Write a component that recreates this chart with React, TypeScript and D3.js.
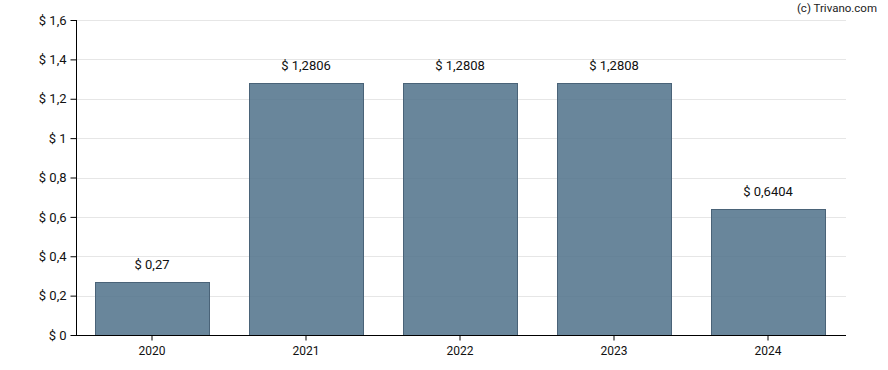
import React, { useEffect, useRef } from "react";
import * as d3 from "d3";

const years = ["2020", "2021", "2022", "2023", "2024"];
const dividends = [0.27, 1.2806, 1.2808, 1.2808, 0.6404];
const valueLabels = ["$ 0,27", "$ 1,2806", "$ 1,2808", "$ 1,2808", "$ 0,6404"];
const yTicks = [0, 0.2, 0.4, 0.6, 0.8, 1, 1.2, 1.4, 1.6];

const W = 888;
const H = 370;
const margin = { top: 20, right: 42, bottom: 35, left: 76 };

export default function App() {
  const svgRef = useRef<SVGSVGElement>(null);

  useEffect(() => {
    if (!svgRef.current) return;
    const svg = d3.select(svgRef.current);
    svg.selectAll("*").remove();

    const x = d3
      .scaleBand<string>()
      .domain(years)
      .range([margin.left - 1, W - margin.right - 1])
      .paddingInner(0.26)
      .paddingOuter(0.13);
    const y = d3
      .scaleLinear()
      .domain([0, 1.6])
      .range([H - margin.bottom, margin.top]);

    const fmt = (v: number) => "$ " + String(+v.toFixed(1)).replace(".", ",");
    const font = "Roboto, sans-serif";

    // grid lines
    svg
      .append("g")
      .selectAll("line")
      .data(yTicks.filter((t) => t > 0))
      .join("line")
      .attr("x1", margin.left)
      .attr("x2", W - margin.right)
      .attr("y1", (d) => Math.round(y(d)) + 0.5)
      .attr("y2", (d) => Math.round(y(d)) + 0.5)
      .attr("stroke", "#e6e6e6")
      .attr("stroke-width", 1);

    // bars
    svg
      .append("g")
      .selectAll("rect")
      .data(dividends)
      .join("rect")
      .attr("x", (_, i) => Math.round(x(years[i])!) + 0.5)
      .attr("y", (d) => Math.round(y(d)) + 0.5)
      .attr("width", Math.round(x.bandwidth()))
      .attr("height", (d) => Math.round(y(0)) - Math.round(y(d)))
      .attr("fill", "#4f7189")
      .attr("fill-opacity", 0.85)
      .attr("stroke", "#4a6378")
      .attr("stroke-width", 1);

    // value labels
    svg
      .append("g")
      .selectAll("text")
      .data(dividends)
      .join("text")
      .attr("x", (_, i) => x(years[i])! + x.bandwidth() / 2)
      .attr("y", (d) => y(d) - 13)
      .attr("text-anchor", "middle")
      .attr("font-family", font)
      .attr("font-size", 13)
      .attr("fill", "#111")
      .text((_, i) => valueLabels[i]);

    // y axis
    const yAxis = svg
      .append("g")
      .attr("transform", `translate(${margin.left + 0.5},0)`)
      .call(
        d3
          .axisLeft(y)
          .tickValues(yTicks)
          .tickSize(6)
          .tickPadding(4)
          .tickFormat((d) => fmt(+d))
      );
    yAxis.select(".domain").attr("stroke", "#000").attr("d", `M0,${y(1.6)}V${y(0)}`);
    yAxis.selectAll(".tick line").attr("stroke", "#000");
    yAxis
      .selectAll(".tick text")
      .attr("font-family", font)
      .attr("font-size", 13)
      .attr("fill", "#111");

    // x axis
    const xAxis = svg
      .append("g")
      .attr("transform", `translate(0,${Math.round(y(0)) + 0.5})`)
      .call(d3.axisBottom(x).tickSize(5).tickPadding(6));
    xAxis.select(".domain").attr("stroke", "#000").attr("d", `M${margin.left},0H${W - margin.right}`);
    xAxis.selectAll(".tick line").attr("stroke", "#000");
    xAxis
      .selectAll(".tick text")
      .attr("font-family", font)
      .attr("font-size", 12)
      .attr("fill", "#111");

    // copyright
    svg
      .append("text")
      .attr("x", W - 11)
      .attr("y", 12)
      .attr("text-anchor", "end")
      .attr("font-family", font)
      .attr("font-size", 11.5)
      .attr("fill", "#222")
      .text("(c) Trivano.com");
  }, []);

  return (
    <svg
      ref={svgRef}
      width={W}
      height={H}
      style={{ position: "absolute", left: 0, top: 0, background: "#fff" }}
    />
  );
}
